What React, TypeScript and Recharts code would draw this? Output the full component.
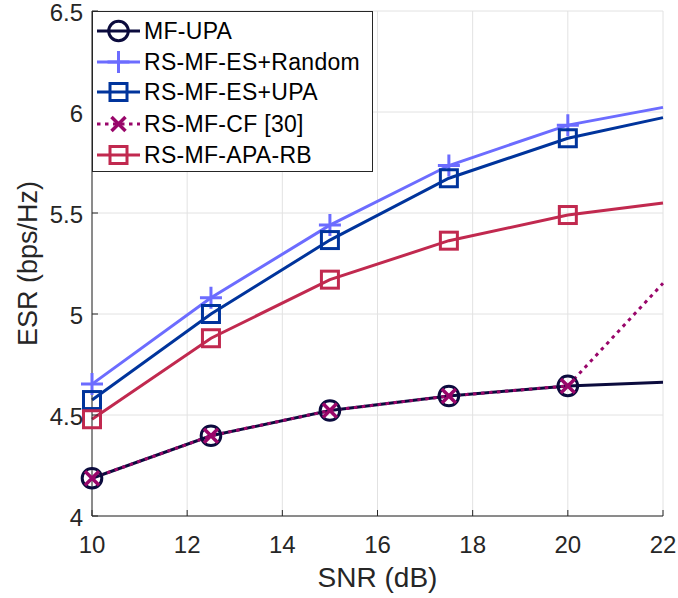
import React from 'react';
import { LineChart, Line, XAxis, YAxis, CartesianGrid } from 'recharts';

// ---- data ----
const snr = [10, 12.5, 15, 17.5, 20, 22];
const mfUpa = [4.187, 4.397, 4.522, 4.594, 4.644, 4.662];
const rsRandom = [4.653, 5.08, 5.44, 5.735, 5.935, 6.023];
const rsUpa = [4.574, 5.0, 5.366, 5.672, 5.87, 5.972];
const rsCf = [4.187, 4.397, 4.522, 4.594, 4.644, 5.152];
const rsApa = [4.479, 4.88, 5.17, 5.363, 5.49, 5.55];
const markerSnr = [10, 12.5, 15, 17.5, 20];

const xTicks = [10, 12, 14, 16, 18, 20, 22];
const yTicks = [4, 4.5, 5, 5.5, 6, 6.5];
const yTickLabels = ['4', '4.5', '5', '5.5', '6', '6.5'];

const xLabel = 'SNR (dB)';
const yLabel = 'ESR (bps/Hz)';

const series = [
  { key: 'mf', name: 'MF-UPA', values: mfUpa, color: '#0b0b3d', marker: 'circle', dash: undefined },
  { key: 'rnd', name: 'RS-MF-ES+Random', values: rsRandom, color: '#6c6cff', marker: 'plus', dash: undefined },
  { key: 'upa', name: 'RS-MF-ES+UPA', values: rsUpa, color: '#00349c', marker: 'square', dash: undefined },
  { key: 'cf', name: 'RS-MF-CF [30]', values: rsCf, color: '#99066a', marker: 'x', dash: '3.5 4.5' },
  { key: 'apa', name: 'RS-MF-APA-RB', values: rsApa, color: '#c1294f', marker: 'square', dash: undefined },
];

const rows = snr.map((x, i) => {
  const r: any = { x };
  series.forEach((s) => (r[s.key] = s.values[i]));
  return r;
});

const FONT = '"Liberation Sans", Arial, Helvetica, sans-serif';
const AXIS = '#262626';
const TICK_FS = 24;

// layout of the plot box (page pixels)
const W = 678;
const H = 598;
const PLOT_L = 92;
const PLOT_T = 11;
const PLOT_R = 663;
const PLOT_B = 516;

function Marker({ kind, cx, cy, color }: any) {
  switch (kind) {
    case 'circle':
      return <circle cx={cx} cy={cy} r={9.8} fill="none" stroke={color} strokeWidth={3} />;
    case 'plus':
      return (
        <path d={`M${cx - 11},${cy}H${cx + 11}M${cx},${cy - 11}V${cy + 11}`} stroke={color} strokeWidth={3} fill="none" />
      );
    case 'square':
      return <rect x={cx - 8.5} y={cy - 8.5} width={17} height={17} fill="none" stroke={color} strokeWidth={3} />;
    case 'x':
      return (
        <path
          d={`M${cx - 7},${cy - 7}L${cx + 7},${cy + 7}M${cx - 7},${cy + 7}L${cx + 7},${cy - 7}`}
          stroke={color}
          strokeWidth={3.5}
          fill="none"
        />
      );
    default:
      return null;
  }
}

const XTick = (p: any) => (
  <g>
    <line x1={p.x} x2={p.x} y1={p.y} y2={p.y - 6} stroke={AXIS} strokeWidth={1} />
    <text x={p.x} y={p.y + 37} textAnchor="middle" fontSize={TICK_FS} fill={AXIS} fontFamily={FONT}>
      {p.payload.value}
    </text>
  </g>
);
const TopTick = (p: any) => (
  <line x1={p.x} x2={p.x} y1={p.y} y2={p.y + 6} stroke={AXIS} strokeWidth={1} />
);
const YTick = (p: any) => {
  const idx = yTicks.indexOf(p.payload.value);
  return (
    <g>
      <line x1={p.x} x2={p.x + 6} y1={p.y} y2={p.y} stroke={AXIS} strokeWidth={1} />
      <text x={p.x - 9} y={p.y} dy="0.42em" textAnchor="end" fontSize={TICK_FS} fill={AXIS} fontFamily={FONT}>
        {idx >= 0 ? yTickLabels[idx] : p.payload.value}
      </text>
    </g>
  );
};
const RightTick = (p: any) => (
  <line x1={p.x} x2={p.x - 6} y1={p.y} y2={p.y} stroke={AXIS} strokeWidth={1} />
);

const XLabel = () => (
  <text x={(PLOT_L + PLOT_R) / 2} y={587} textAnchor="middle" fontSize={28} fill={AXIS} fontFamily={FONT}>
    {xLabel}
  </text>
);
const YLabel = () => {
  const cx = 28;
  const cy = (PLOT_T + PLOT_B) / 2;
  return (
    <text
      x={cx}
      y={cy}
      transform={`rotate(-90 ${cx} ${cy})`}
      textAnchor="middle"
      dominantBaseline="central"
      fontSize={27}
      fill={AXIS}
      fontFamily={FONT}
    >
      {yLabel}
    </text>
  );
};

function LegendBox() {
  const rowsY = [19, 50, 80, 112, 143];
  return (
    <div
      style={{
        position: 'absolute',
        left: PLOT_L,
        top: PLOT_T,
        width: 281,
        height: 161,
        boxSizing: 'border-box',
        border: `1px solid ${AXIS}`,
        background: '#fff',
      }}
    >
      <svg width={279} height={159} style={{ display: 'block' }}>
        {series.map((s, i) => (
          <g key={s.key}>
            <line
              x1={4}
              x2={47}
              y1={rowsY[i]}
              y2={rowsY[i]}
              stroke={s.color}
              strokeWidth={3}
              strokeDasharray={s.dash}
            />
            <Marker kind={s.marker} cx={25.5} cy={rowsY[i]} color={s.color} />
            <text x={51} y={rowsY[i]} dy="0.36em" fontSize={23} letterSpacing={0.3} fill="#000" fontFamily={FONT}>
              {s.name}
            </text>
          </g>
        ))}
      </svg>
    </div>
  );
}

export default function App() {
  return (
    <div style={{ position: 'absolute', left: 0, top: 0, width: W, height: H, background: '#fff' }}>
      <LineChart
        width={W}
        height={H}
        data={rows}
        margin={{ top: PLOT_T, right: W - PLOT_R, bottom: H - PLOT_B - 80, left: PLOT_L - 70 }}
        style={{ overflow: 'visible' }}
      >
        <CartesianGrid stroke="#e2e2e2" strokeWidth={1} />
        <XAxis
          dataKey="x"
          type="number"
          domain={[10, 22]}
          ticks={xTicks}
          interval={0}
          height={80}
          tickSize={0}
          tickMargin={0}
          tickLine={false}
          axisLine={{ stroke: AXIS, strokeWidth: 1 }}
          tick={<XTick />}
          label={<XLabel />}
        />
        <XAxis
          xAxisId="top"
          orientation="top"
          dataKey="x"
          type="number"
          domain={[10, 22]}
          ticks={xTicks}
          interval={0}
          height={0}
          tickSize={0}
          tickMargin={0}
          tickLine={false}
          axisLine={{ stroke: AXIS, strokeWidth: 1 }}
          tick={<TopTick />}
        />
        <YAxis
          type="number"
          domain={[4, 6.5]}
          ticks={yTicks}
          interval={0}
          width={70}
          tickSize={0}
          tickMargin={0}
          tickLine={false}
          axisLine={{ stroke: AXIS, strokeWidth: 1 }}
          tick={<YTick />}
          label={<YLabel />}
        />
        <YAxis
          yAxisId="right"
          orientation="right"
          type="number"
          domain={[4, 6.5]}
          ticks={yTicks}
          interval={0}
          width={0}
          tickSize={0}
          tickMargin={0}
          tickLine={false}
          axisLine={{ stroke: AXIS, strokeWidth: 1 }}
          tick={<RightTick />}
        />
        {series.map((s) => (
          <Line
            key={s.key}
            dataKey={s.key}
            name={s.name}
            type="linear"
            stroke={s.color}
            strokeWidth={3}
            strokeDasharray={s.dash}
            isAnimationActive={false}
            activeDot={false}
            dot={(p: any) =>
              markerSnr.includes(p.payload.x) ? (
                <Marker key={`${s.key}-${p.index}`} kind={s.marker} cx={p.cx} cy={p.cy} color={s.color} />
              ) : (
                <g key={`${s.key}-${p.index}`} />
              )
            }
          />
        ))}
      </LineChart>
      <LegendBox />
    </div>
  );
}
